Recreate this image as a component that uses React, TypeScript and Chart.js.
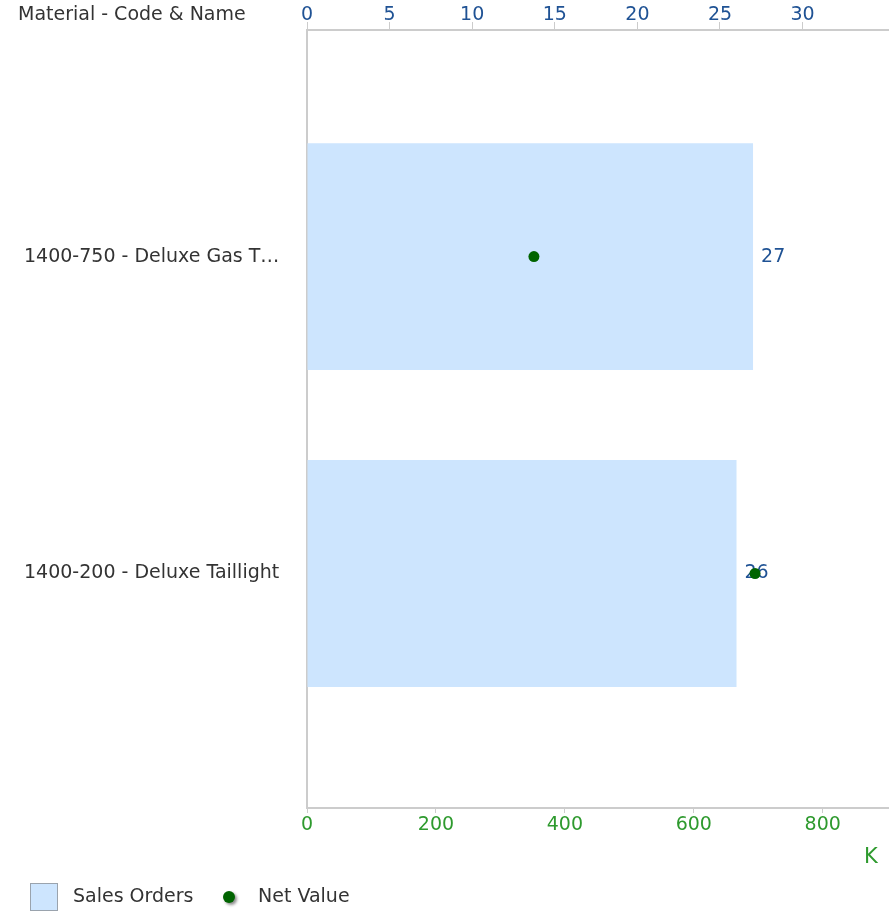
import React, { useEffect, useRef } from "react";
import { Chart, registerables } from "chart.js";

Chart.register(...registerables);

const categories = ["1400-750 - Deluxe Gas T…", "1400-200 - Deluxe Taillight"];
const salesOrders = [27, 26];
const netValueK = [352, 695];
const topTickValues = [0, 5, 10, 15, 20, 25, 30];
const bottomTickValues = [0, 200, 400, 600, 800];
const axisTitle = "Material - Code & Name";
const bottomUnit = "K";
const legendLabels = ["Sales Orders", "Net Value"];

const FONT = '"DejaVu Sans", Verdana, sans-serif';
const FS = 19;
const BAR_COLOR = "#cde5fe";
const DOT_COLOR = "#006400";
const BLUE = "#1f5294";
const GREEN = "#2e9a2e";
const TEXT = "#333333";
const AXIS = "#cccccc";

const W = 894;
const H = 914;
const AREA = { left: 307, right: 889, top: 30, bottom: 808 };
const PAD_LEFT = 24;

const decorPlugin = {
  id: "decor",
  afterDatasetDraw(chart: any, args: any) {
    if (args.index !== 0) return;
    const ctx = chart.ctx;
    const meta = chart.getDatasetMeta(0);
    ctx.save();
    ctx.font = `${FS}px ${FONT}`;
    ctx.fillStyle = BLUE;
    ctx.textAlign = "left";
    ctx.textBaseline = "middle";
    meta.data.forEach((el: any, i: number) => {
      ctx.fillText(String(salesOrders[i]), el.x + 8, el.y);
    });
    ctx.restore();
  },
  afterDraw(chart: any) {
    const ctx = chart.ctx;
    ctx.save();
    ctx.font = `${FS}px ${FONT}`;
    ctx.fillStyle = TEXT;
    ctx.textAlign = "left";
    ctx.textBaseline = "middle";
    ctx.fillText(axisTitle, 18, 15);
    ctx.font = `21px ${FONT}`;
    ctx.fillStyle = GREEN;
    ctx.fillText(bottomUnit, 864, 858);
    ctx.font = `${FS}px ${FONT}`;
    ctx.fillStyle = BAR_COLOR;
    ctx.fillRect(30, 883, 28, 28);
    ctx.strokeStyle = "#9aa3ad";
    ctx.lineWidth = 1;
    ctx.strokeRect(30.5, 883.5, 27, 27);
    ctx.fillStyle = TEXT;
    ctx.fillText(legendLabels[0], 73, 897);
    ctx.save();
    ctx.shadowColor = "rgba(0,0,0,0.45)";
    ctx.shadowBlur = 3;
    ctx.shadowOffsetX = 2;
    ctx.shadowOffsetY = 2;
    ctx.fillStyle = DOT_COLOR;
    ctx.beginPath();
    ctx.arc(229, 897, 6, 0, Math.PI * 2);
    ctx.fill();
    ctx.restore();
    ctx.fillStyle = TEXT;
    ctx.fillText(legendLabels[1], 258, 897);
    ctx.restore();
  },
};

export default function App() {
  const ref = useRef<HTMLCanvasElement>(null);
  useEffect(() => {
    if (!ref.current) return;
    const chart = new Chart(ref.current, {
      type: "bar",
      data: {
        datasets: [
          {
            type: "bar",
            label: legendLabels[0],
            data: categories.map((_, i) => ({ x: salesOrders[i], y: i })),
            backgroundColor: BAR_COLOR,
            borderWidth: 0,
            xAxisID: "xTop",
            yAxisID: "y",
            categoryPercentage: 1,
            barPercentage: 0.716,
            order: 2,
          } as any,
          {
            type: "scatter",
            label: legendLabels[1],
            data: categories.map((_, i) => ({ x: netValueK[i], y: i })),
            backgroundColor: DOT_COLOR,
            borderWidth: 0,
            pointRadius: 5.5,
            xAxisID: "xBottom",
            yAxisID: "y",
            order: 1,
          } as any,
        ],
      },
      options: {
        indexAxis: "y",
        responsive: false,
        animation: false,
        layout: { padding: { left: PAD_LEFT, right: W - AREA.right, top: 0, bottom: 0 } },
        plugins: { legend: { display: false }, tooltip: { enabled: false } },
        scales: {
          y: {
            type: "linear",
            position: "left",
            reverse: true,
            offset: false,
            beginAtZero: false,
            min: -0.715,
            max: 1.74,
            grid: { display: false, offset: false },
            border: { display: true, color: AXIS, width: 2 },
            afterBuildTicks: (s: any) => {
              s.ticks = categories.map((_, i) => ({ value: i }));
            },
            afterFit: (s: any) => {
              s.width = AREA.left - PAD_LEFT;
            },
            ticks: {
              crossAlign: "far",
              color: TEXT,
              font: { family: FONT, size: FS },
              callback: (v: any) => categories[v] ?? "",
            },
          },
          xTop: {
            type: "linear",
            position: "top",
            offset: false,
            min: 0,
            max: 35.2,
            grid: { drawOnChartArea: false, drawTicks: true, tickLength: 8, color: AXIS, offset: false },
            border: { display: true, color: AXIS, width: 2 },
            afterBuildTicks: (s: any) => {
              s.ticks = topTickValues.map((v) => ({ value: v }));
            },
            afterFit: (s: any) => {
              s.height = AREA.top;
            },
            ticks: {
              color: BLUE,
              padding: -4,
              maxRotation: 0,
              font: { family: FONT, size: FS },
            },
          },
          xBottom: {
            type: "linear",
            position: "bottom",
            offset: false,
            min: 0,
            max: 902,
            grid: { drawOnChartArea: false, drawTicks: true, tickLength: 5, color: AXIS, offset: false },
            border: { display: true, color: AXIS, width: 2 },
            afterBuildTicks: (s: any) => {
              s.ticks = bottomTickValues.map((v) => ({ value: v }));
            },
            afterFit: (s: any) => {
              s.height = H - AREA.bottom;
            },
            ticks: {
              color: GREEN,
              padding: 1,
              maxRotation: 0,
              font: { family: FONT, size: FS },
            },
          },
        },
      } as any,
      plugins: [decorPlugin],
    });
    return () => chart.destroy();
  }, []);
  return (
    <div style={{ position: "fixed", left: 0, top: 0, width: W, height: H, background: "#fff" }}>
      <canvas ref={ref} width={W} height={H} style={{ width: W, height: H, display: "block" }} />
    </div>
  );
}
